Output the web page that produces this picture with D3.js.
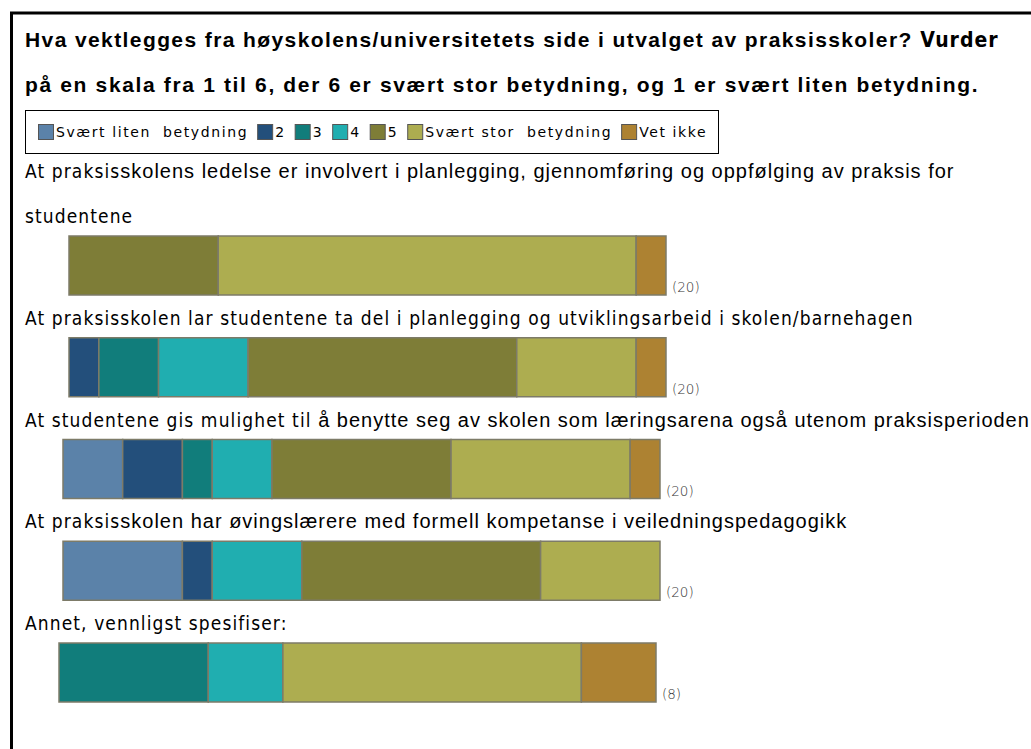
<!DOCTYPE html>
<html>
<head>
<meta charset="utf-8">
<script src="https://cdn.jsdelivr.net/npm/d3@7"></script>
<style>
  body { margin: 0; background: #fff; }
  .title { font-family: "Liberation Sans", Arial, sans-serif; font-weight: bold; font-size: 21px; letter-spacing: 1.4px; fill: #000; }
  .title.wide { letter-spacing: 1.65px; }
  .title .alt { font-family: "DejaVu Sans Condensed", "DejaVu Sans", sans-serif; letter-spacing: 1px; }
  .label { font-family: "Liberation Sans", Arial, sans-serif; font-size: 20px; letter-spacing: 1px; fill: #000; }
  .label .alt { font-family: "DejaVu Sans Condensed", "DejaVu Sans", sans-serif; font-size: 19px; letter-spacing: 1.1px; }
  .legend-text { font-family: "DejaVu Sans", sans-serif; font-size: 14px; letter-spacing: 1.6px; fill: #000; }
  .count { font-family: "DejaVu Sans", sans-serif; font-size: 13.5px; font-weight: 300; fill: #333; }
</style>
</head>
<body>
<svg id="chart" width="1031" height="749"></svg>
<script>
// DATA
const categories = ["Svært liten  betydning", "2", "3", "4", "5", "Svært stor  betydning", "Vet ikke"];
const questions = ["q1", "q2", "q3", "q4", "q5"];

// question labels: each line is a list of [text, useAltFont]
const questionLines = [
  [[["At praksis", true], ["skolens ledelse er involvert i planlegging, gjennomføring og oppfølging av praksis for", false]],
   [["studentene", true]]],
  [[["At praksisskolen lar studentene ta del i planlegging og utviklingsarbeid i skolen/barnehagen", true]]],
  [[["At studentene gis mulighet til", true], [" å benytte seg av skolen som læringsarena også utenom praksisperioden", false]]],
  [[["At praksis", true], ["skolen har øvingslærere med formell kompetanse i veiledningspedagogikk", false]]],
  [[["Annet, vennligst spesifiser:", true]]]
];

// counts per answer category, one value per question
const svaertLiten = [0, 0, 2, 4, 0];
const to          = [0, 1, 2, 1, 0];
const tre         = [0, 2, 1, 0, 2];
const fire        = [0, 3, 2, 3, 1];
const fem         = [5, 9, 6, 8, 0];
const svaertStor  = [14, 4, 6, 4, 4];
const vetIkke     = [1, 1, 1, 0, 1];
const respondents = [20, 20, 20, 20, 8];

const colors = ["#5b82a9", "#234f7b", "#117d7b", "#20aeb0", "#7e7d37", "#adad50", "#ad8232"];

// LAYOUT
const barWidth = 597, barHeight = 59;
const barLeft = [69, 69, 63, 63, 59];

const svg = d3.select("#chart");

// frame (right and bottom run off the picture)
svg.append("rect")
  .attr("x", 11.5).attr("y", 13)
  .attr("width", 1100).attr("height", 800)
  .attr("fill", "none").attr("stroke", "#000").attr("stroke-width", 3);

// TITLE
const t1 = svg.append("text").attr("class", "title").attr("x", 25).attr("y", 47);
t1.append("tspan").text("Hva vektlegges fra høyskolens/universitetets side i utvalget av praksisskoler?");
t1.append("tspan").attr("class", "alt").text(" Vurder");
svg.append("text").attr("class", "title wide").attr("x", 25).attr("y", 92)
  .text("på en skala fra 1 til 6, der 6 er svært stor betydning, og 1 er svært liten betydning.");

// LEGEND
const legend = svg.append("g");
legend.append("rect")
  .attr("x", 25.5).attr("y", 110.5).attr("width", 693).attr("height", 43)
  .attr("fill", "#fff").attr("stroke", "#000").attr("stroke-width", 1);
let lx = 38;
categories.forEach((c, i) => {
  legend.append("rect")
    .attr("x", lx + 0.5).attr("y", 124.5).attr("width", 15).attr("height", 15)
    .attr("fill", colors[i]).attr("stroke", "#555").attr("stroke-width", 1);
  const tx = legend.append("text").attr("class", "legend-text")
    .attr("x", lx + 18).attr("y", 137)
    .attr("xml:space", "preserve")
    .style("white-space", "pre")
    .text(c);
  lx += 18 + tx.node().getComputedTextLength() + 9;
});

// SCALES
const table = questions.map((q, i) => ({
  q,
  "Svært liten  betydning": svaertLiten[i], "2": to[i], "3": tre[i], "4": fire[i],
  "5": fem[i], "Svært stor  betydning": svaertStor[i], "Vet ikke": vetIkke[i]
}));

const stack = d3.stack().keys(categories).offset(d3.stackOffsetExpand);
const series = stack(table);

const x = d3.scaleLinear().domain([0, 1]).range([0, barWidth]);
const y = d3.scalePoint().domain(questions).range([236, 643]);
const color = d3.scaleOrdinal().domain(categories).range(colors);

// BARS
series.forEach(s => {
  svg.append("g").selectAll("rect")
    .data(s.map((d, i) => ({ d, i })).filter(o => o.d[1] - o.d[0] > 0))
    .join("rect")
    .attr("x", o => barLeft[o.i] + x(o.d[0]))
    .attr("y", o => y(questions[o.i]))
    .attr("width", o => x(o.d[1]) - x(o.d[0]))
    .attr("height", barHeight)
    .attr("fill", color(s.key))
    .attr("stroke", "#7d7b68")
    .attr("stroke-width", 1.5);
});

// respondent counts
svg.append("g").selectAll("text")
  .data(questions)
  .join("text")
  .attr("class", "count")
  .attr("x", (q, i) => barLeft[i] + x(1) + 6)
  .attr("y", q => y(q) + barHeight - 3)
  .text((q, i) => `(${respondents[i]})`);

// QUESTION LABELS
questionLines.forEach((lines, i) => {
  const base = y(questions[i]) - 13;
  lines.forEach((segs, j) => {
    const t = svg.append("text").attr("class", "label")
      .attr("x", 25)
      .attr("y", base - (lines.length - 1 - j) * 45);
    segs.forEach(([txt, alt]) => {
      const sp = t.append("tspan").text(txt).attr("xml:space", "preserve").style("white-space", "pre");
      if (alt) sp.attr("class", "alt");
    });
  });
});
</script>
</body>
</html>
